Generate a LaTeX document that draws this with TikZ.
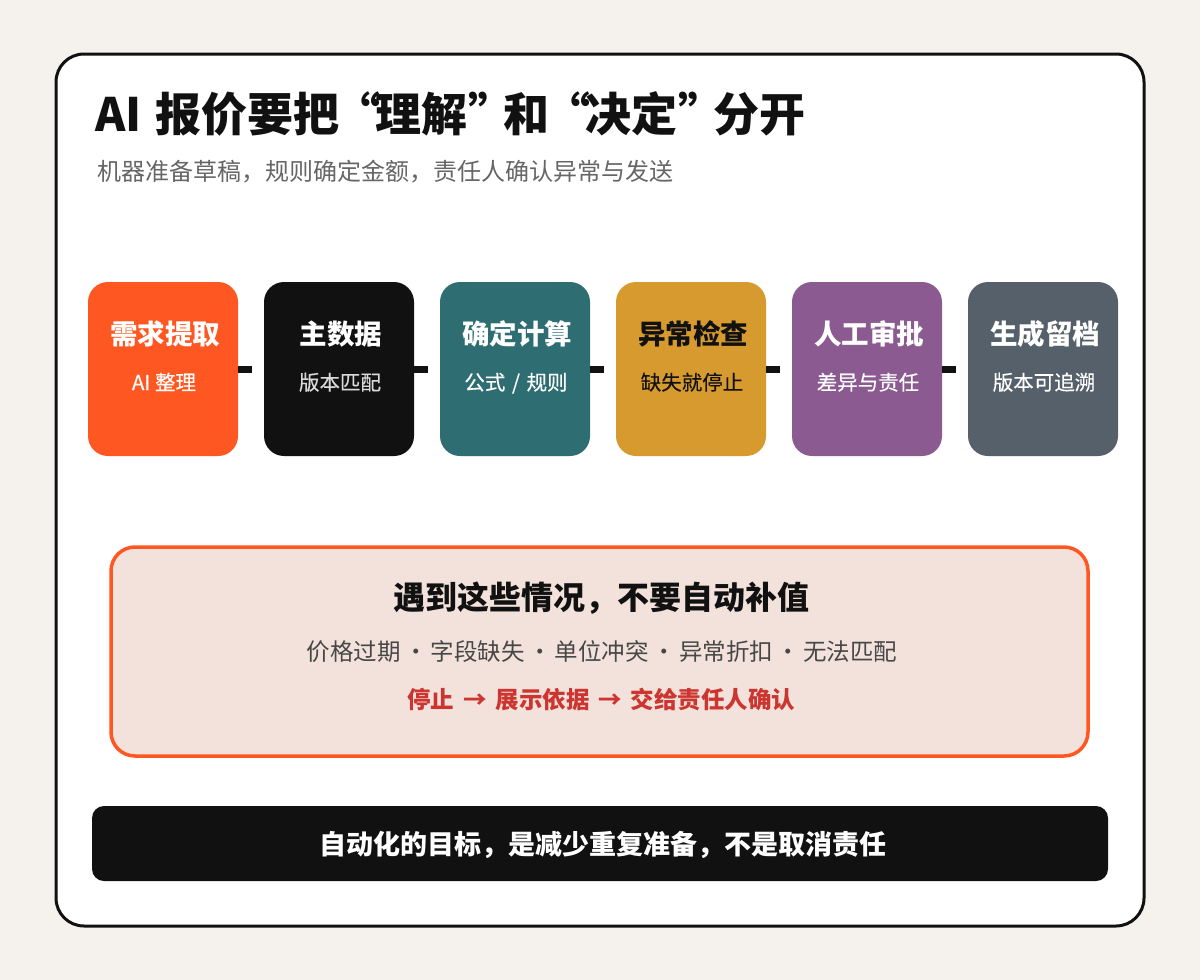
\documentclass[tikz,border=0pt]{standalone}
\usepackage{fontspec}
\setmainfont{Noto Sans CJK SC}
\newfontfamily\cjkmed[FakeBold=0.35]{Noto Sans CJK SC}
\definecolor{bg}{HTML}{F5F2ED}
\definecolor{ink}{HTML}{111111}
\definecolor{orng}{HTML}{FF5722}
\definecolor{teal}{HTML}{2E6E73}
\definecolor{gold}{HTML}{D69A2E}
\definecolor{purp}{HTML}{8B5A90}
\definecolor{slate}{HTML}{55606B}
\definecolor{warnfill}{HTML}{F2E2DB}
\definecolor{warnred}{HTML}{CC3530}
\newcommand{\fs}[1]{\fontsize{#1}{#1}\selectfont}
\newcommand{\myoq}{\kern-5pt“\kern-5pt}
\newcommand{\mycq}{\kern1pt”\kern-11pt}
\newcommand{\dsep}{\hspace{-2pt} · \hspace{-2pt}}
\newcommand{\asep}{\hspace{3.5pt} → \hspace{3.5pt}}
\tikzset{
  stepbox/.style={rectangle, rounded corners=20pt, minimum width=150pt, minimum height=174pt, inner sep=0pt, draw=none},
  boxtitle/.style={anchor=base, inner sep=0pt, font=\fs{27.5}\bfseries},
  boxsub/.style={anchor=base, inner sep=0pt, font=\fs{20.5}\cjkmed},
  conn/.style={draw=ink, line width=7pt, shorten >=12pt},
  txt/.style={anchor=base, inner sep=0pt}
}
\begin{document}
\begin{tikzpicture}[x=1pt,y=-1pt]
\useasboundingbox (0,0) rectangle (1200,980);
\fill[bg] (0,0) rectangle (1200,980);
\draw[ink, line width=3pt, fill=white, rounded corners=28pt] (56,54) rectangle (1144,926);
\node[txt, anchor=base west, font=\fs{46}\bfseries, text=ink] (title) at (95,131) {AI\hspace{3pt} 报价要把\myoq 理解\mycq 和\myoq 决定\mycq 分开};
\node[txt, anchor=base west, font=\fs{24}, text=black!60] (subtitle) at (97,180) {机器准备草稿，规则确定金额，责任人确认异常与发送};
% steps
\node[stepbox, fill=orng] (s1) at (163,369) {};
\node[stepbox, fill=ink] (s2) at (339,369) {};
\node[stepbox, fill=teal] (s3) at (515,369) {};
\node[stepbox, fill=gold] (s4) at (691,369) {};
\node[stepbox, fill=purp] (s5) at (867,369) {};
\node[stepbox, fill=slate] (s6) at (1043,369) {};
\draw[conn] (s1.east) -- (s2.west);
\draw[conn] (s2.east) -- (s3.west);
\draw[conn] (s3.east) -- (s4.west);
\draw[conn] (s4.east) -- (s5.west);
\draw[conn] (s5.east) -- (s6.west);
\node[boxtitle, text=white] (t1) at (165,344.5) {需求提取};
\node[boxsub, text=white] (u1) at (164,390) {AI 整理};
\node[boxtitle, text=white] (t2) at (341,344.5) {主数据};
\node[boxsub, text=white!85!black] (u2) at (340,390) {版本匹配};
\node[boxtitle, text=white] (t3) at (517,344.5) {确定计算};
\node[boxsub, text=white] (u3) at (516,390) {公式\hspace{2pt} / \hspace{2pt}规则};
\node[boxtitle, text=ink] (t4) at (693,344.5) {异常检查};
\node[boxsub, text=ink] (u4) at (692,390) {缺失就停止};
\node[boxtitle, text=white] (t5) at (869,344.5) {人工审批};
\node[boxsub, text=white] (u5) at (868,390) {差异与责任};
\node[boxtitle, text=white] (t6) at (1045,344.5) {生成留档};
\node[boxsub, text=white] (u6) at (1044,390) {版本可追溯};
% warning box
\node[rectangle, draw=orng, line width=3.5pt, fill=warnfill, rounded corners=24pt, minimum width=977pt, minimum height=209pt, inner sep=0pt] (warn) at (599.5,651.5) {};
\node[txt, font=\fs{32}\bfseries, text=ink] (w1) at (601,609) {遇到这些情况，不要自动补值};
\node[txt, font=\fs{23.5}, text=black!72] (w2) at (602,660) {价格过期\dsep 字段缺失\dsep 单位冲突\dsep 异常折扣\dsep 无法匹配};
\node[txt, font=\fs{23.5}\bfseries, text=warnred] (w3) at (601.5,708) {停止\asep 展示依据\asep 交给责任人确认};
% bottom bar
\node[rectangle, fill=ink, rounded corners=12pt, minimum width=1016pt, minimum height=75pt, inner sep=0pt] (bar) at (600,843.5) {};
\node[txt, font=\fs{27}\bfseries, text=white] (bt) at (603,854) {自动化的目标，是减少重复准备，不是取消责任};
\end{tikzpicture}
\end{document}
